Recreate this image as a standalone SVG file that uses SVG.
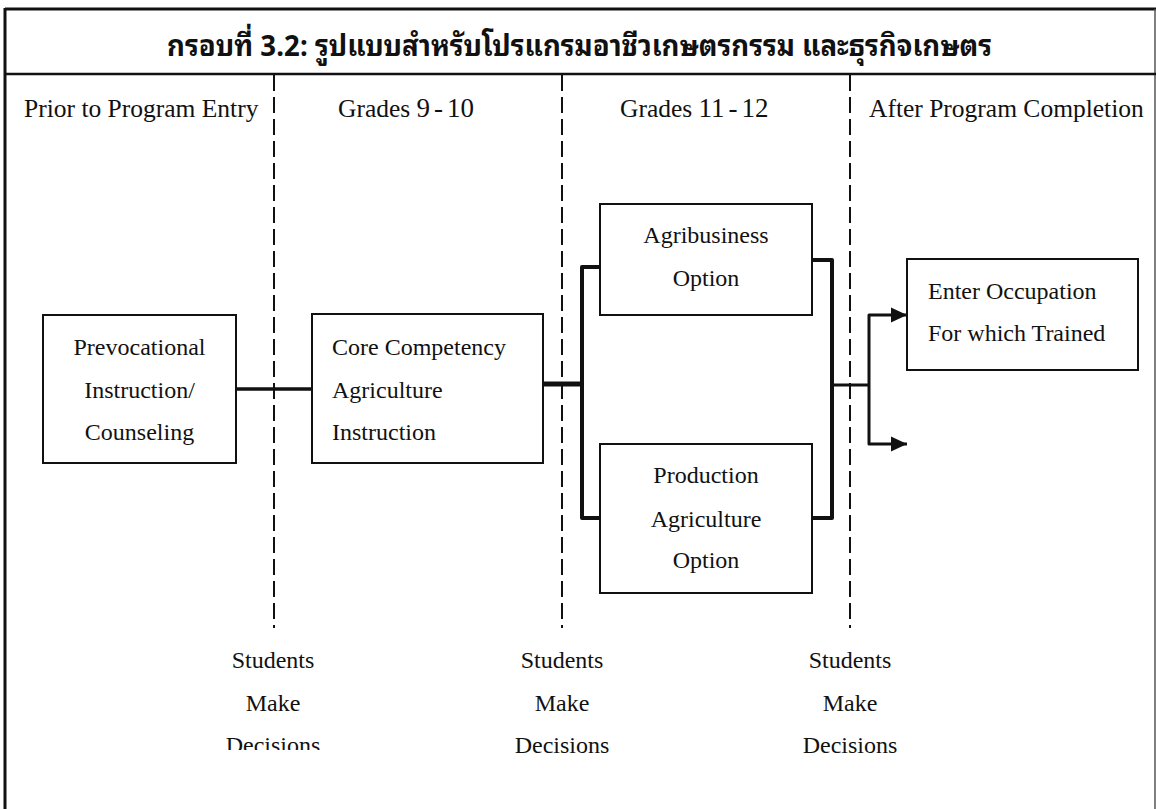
<svg xmlns="http://www.w3.org/2000/svg" width="1156" height="809" viewBox="0 0 1156 809">
  <style>
    .title { font-family: "Noto Sans Thai Looped", "Noto Serif Thai", "Noto Sans Thai", "Noto Sans", "DejaVu Sans", sans-serif; font-weight: bold; font-size: 29px; fill: #111; }
    .hdr { font-family: "Liberation Serif", "Times New Roman", serif; font-size: 25.5px; fill: #111; }
    .num { font-size: 27px; }
    .txt { font-family: "Liberation Serif", "Times New Roman", serif; font-size: 24px; fill: #111; }
    .mid { text-anchor: middle; }
    .box { fill: #fff; stroke: #111; stroke-width: 2; }
    .dash { stroke: #111; stroke-width: 2; stroke-dasharray: 16 6; fill: none; }
    .conn { stroke: #111; fill: none; stroke-linejoin: round; }
  </style>
  <defs>
    <marker id="arrow" markerUnits="userSpaceOnUse" markerWidth="17" markerHeight="17" refX="16" refY="8.5" orient="auto">
      <path d="M0,1 L16,8.5 L0,16 Z" fill="#111"/>
    </marker>
    <clipPath id="clipDec">
      <rect x="0" y="600" width="400" height="150"/>
    </clipPath>
  </defs>
  <rect x="0" y="0" width="1156" height="809" fill="#fff"/>

  <g id="frame">
    <line x1="5" y1="9" x2="1156" y2="9" stroke="#111" stroke-width="3"/>
    <line x1="5" y1="8" x2="5" y2="809" stroke="#111" stroke-width="3"/>
    <line x1="1155" y1="9" x2="1155" y2="809" stroke="#555" stroke-width="1.5"/>
    <line x1="5" y1="74" x2="1156" y2="74" stroke="#111" stroke-width="2.5"/>
  </g>

  <g id="title">
    <text class="title" x="167" y="56" textLength="825" lengthAdjust="spacingAndGlyphs">กรอบที่ 3.2: รูปแบบสำหรับโปรแกรมอาชีวเกษตรกรรม และธุรกิจเกษตร</text>
  </g>

  <g id="headers">
    <text class="hdr" x="24" y="117">Prior to Program Entry</text>
    <text class="hdr" x="338" y="117">Grades <tspan class="num">9</tspan><tspan class="num" dx="4">-</tspan><tspan class="num" dx="4">10</tspan></text>
    <text class="hdr" x="620" y="117">Grades <tspan class="num">11</tspan><tspan class="num" dx="4">-</tspan><tspan class="num" dx="4">12</tspan></text>
    <text class="hdr" x="869" y="117">After Program Completion</text>
  </g>

  <g id="dividers">
    <line class="dash" x1="274" y1="75" x2="274" y2="628"/>
    <line class="dash" x1="562" y1="75" x2="562" y2="628"/>
    <line class="dash" x1="850" y1="75" x2="850" y2="628"/>
  </g>

  <g id="connectors">
    <line class="conn" x1="236" y1="389" x2="312" y2="389" stroke-width="3.5"/>
    <line class="conn" x1="543" y1="384" x2="582" y2="384" stroke-width="5"/>
    <path class="conn" d="M600,267 H582 V518 H600" stroke-width="4"/>
    <path class="conn" d="M812,260 H832 V518 H812" stroke-width="4"/>
    <line class="conn" x1="832" y1="385" x2="869" y2="385" stroke-width="3"/>
    <path class="conn" d="M869,385 V315 H907" stroke-width="3" marker-end="url(#arrow)"/>
    <path class="conn" d="M869,385 V444 H907" stroke-width="3" marker-end="url(#arrow)"/>
  </g>

  <g id="prevocational">
    <rect class="box" x="43" y="315" width="193" height="148"/>
    <text class="txt mid" x="139.5" y="355">Prevocational</text>
    <text class="txt mid" x="139.5" y="398">Instruction/</text>
    <text class="txt mid" x="139.5" y="440">Counseling</text>
  </g>

  <g id="core">
    <rect class="box" x="312" y="314" width="231" height="149"/>
    <text class="txt" x="332" y="355">Core Competency</text>
    <text class="txt" x="332" y="398">Agriculture</text>
    <text class="txt" x="332" y="440">Instruction</text>
  </g>

  <g id="agribusiness">
    <rect class="box" x="600" y="204" width="212" height="111"/>
    <text class="txt mid" x="706" y="243">Agribusiness</text>
    <text class="txt mid" x="706" y="286">Option</text>
  </g>

  <g id="production">
    <rect class="box" x="600" y="444" width="212" height="149"/>
    <text class="txt mid" x="706" y="483">Production</text>
    <text class="txt mid" x="706" y="527">Agriculture</text>
    <text class="txt mid" x="706" y="568">Option</text>
  </g>

  <g id="occupation">
    <rect class="box" x="907" y="259" width="231" height="111"/>
    <text class="txt" x="928" y="299">Enter Occupation</text>
    <text class="txt" x="928" y="341">For which Trained</text>
  </g>

  <g id="decision1">
    <text class="txt mid" x="273" y="668">Students</text>
    <text class="txt mid" x="273" y="711">Make</text>
    <text class="txt mid" x="273" y="753" clip-path="url(#clipDec)">Decisions</text>
  </g>
  <g id="decision2">
    <text class="txt mid" x="562" y="668">Students</text>
    <text class="txt mid" x="562" y="711">Make</text>
    <text class="txt mid" x="562" y="753">Decisions</text>
  </g>
  <g id="decision3">
    <text class="txt mid" x="850" y="668">Students</text>
    <text class="txt mid" x="850" y="711">Make</text>
    <text class="txt mid" x="850" y="753">Decisions</text>
  </g>
</svg>
